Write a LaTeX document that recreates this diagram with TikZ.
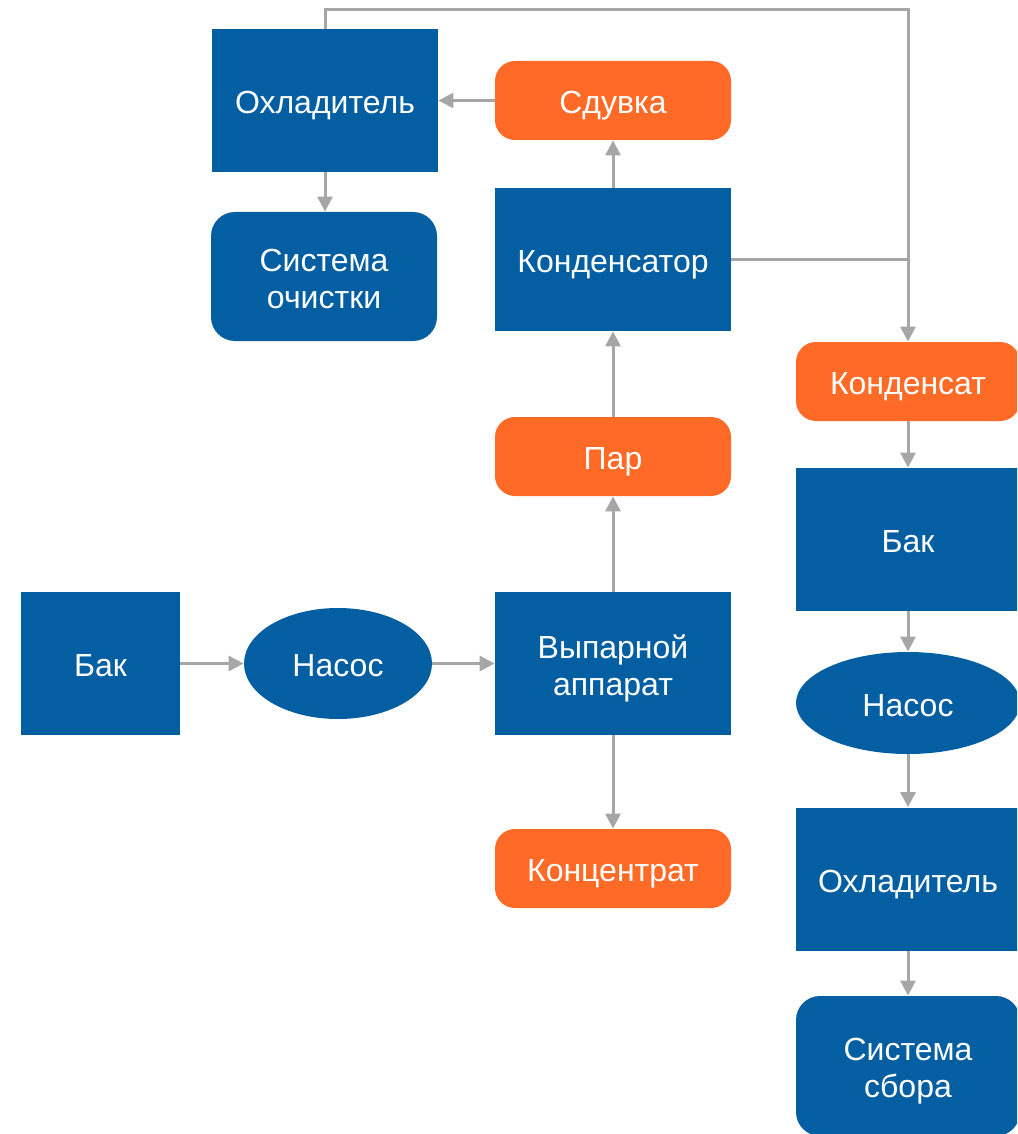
\documentclass[tikz,border=0pt]{standalone}
\usepackage{fontspec}
\setmainfont{Liberation Sans}
\usetikzlibrary{shapes.geometric,arrows.meta}
\definecolor{procblue}{RGB}{3,94,162}
\definecolor{flowor}{RGB}{255,106,38}
\definecolor{linegray}{RGB}{166,166,166}
% caption set on fixed struts, lowered a little below the node centre
\newcommand\lbl[1]{\raisebox{-3pt}[\height][\depth]{\begin{tabular}{@{}c@{}}#1\end{tabular}}}
\tikzset{
  base/.style={text=white, inner sep=0pt,
    font=\fontsize{16}{18.5}\selectfont},
  unit/.style={base, fill=procblue, minimum width=#1},
  unit/.default=118pt,
  tall/.style={minimum height=71.5pt},
  rbox/.style={base, fill=procblue, rounded corners=12pt, minimum width=113pt},
  stream/.style={base, fill=flowor, rounded corners=10pt, minimum width=118pt, minimum height=39.5pt},
  pump/.style={base, fill=procblue, ellipse},
  flow/.style={draw=linegray, line width=1.5pt, -{Triangle[length=7.5pt,width=7.5pt]}},
  pipe/.style={draw=linegray, line width=1.5pt},
}
\begin{document}
\begin{tikzpicture}[x=0.5pt,y=-0.5pt]
\useasboundingbox (0,0) rectangle (1017,1134);
\clip (0,0) rectangle (1017,1134);

% left branch: cooling of the blow-off
\node[unit=113pt, tall] (cool1) at (325,100.5) {\lbl{Охладитель}};
\node[rbox, minimum height=64.5pt] (clean) at (324,276.5) {\lbl{Система\\очистки}};

% middle column: evaporation line
\node[stream] (blow) at (613,100.5) {\lbl{Сдувка}};
\node[unit, tall] (cond) at (613,259.5) {\lbl{Конденсатор}};
\node[stream] (steam) at (613,456.5) {\lbl{Пар}};
\node[unit, tall] (evap) at (613,663.5) {\lbl{Выпарной\\аппарат}};
\node[stream] (conc) at (613,868.5) {\lbl{Концентрат}};

% feed
\node[unit=79.5pt, tall] (tank1) at (100.5,663.5) {\lbl{Бак}};
\node[pump, minimum width=94pt, minimum height=55.5pt] (pump1) at (338,663.5) {\lbl{Насос}};

% right column: condensate line
\node[stream, minimum width=112pt] (cnd) at (908,381.5) {\lbl{Конденсат}};
\node[unit=112pt, tall] (tank2) at (908,539.5) {\lbl{Бак}};
\node[pump, minimum width=112pt, minimum height=51pt] (pump2) at (908,703) {\lbl{Насос}};
\node[unit=112pt, tall] (cool2) at (908,879) {\lbl{Охладитель}};
\node[rbox, minimum width=112pt, minimum height=70pt] (collect) at (908,1066) {\lbl{Система\\сбора}};

% connectors
\draw[flow] (tank1) -- (pump1);
\draw[flow] (pump1) -- (evap);
\draw[flow] (evap) -- (steam);
\draw[flow] (evap) -- (conc);
\draw[flow] (steam) -- (cond);
\draw[flow] (cond) -- (blow);
\draw[flow] (blow) -- (cool1);
\draw[flow] (cool1.south) -- (cool1.south |- clean.north);

\coordinate (topright) at (908,10);
\coordinate (join) at (908,259.5);
\draw[pipe] (cool1.north) |- (topright) -- (join);
\draw[pipe] (cond.east) -- (join);
\draw[flow] (join) -- (cnd.north);

\draw[flow] (cnd) -- (tank2);
\draw[flow] (tank2) -- (pump2);
\draw[flow] (pump2) -- (cool2);
\draw[flow] (cool2) -- (collect);
\end{tikzpicture}
\end{document}
